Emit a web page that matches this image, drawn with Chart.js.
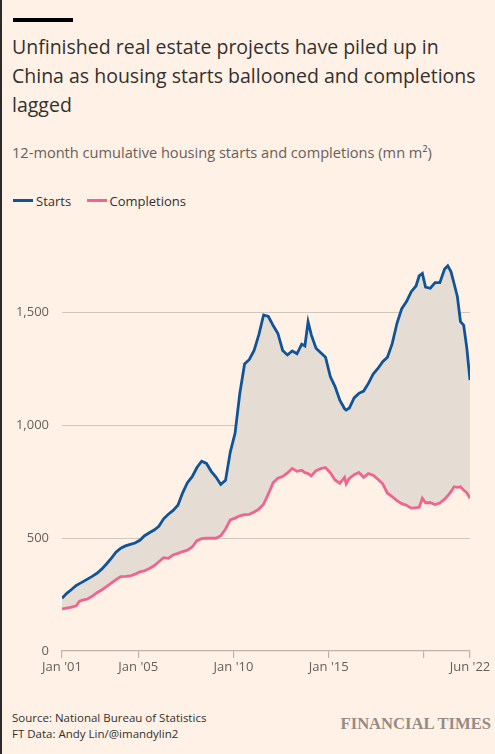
<!DOCTYPE html>
<html>
<head>
<meta charset="utf-8">
<script src="https://cdn.jsdelivr.net/npm/chart.js@4"></script>
<style>
  html, body { margin: 0; padding: 0; }
  body {
    width: 495px; height: 754px; background: #FFF1E5; position: relative; overflow: hidden;
    font-family: "Open Sans", "Noto Sans", sans-serif; color: #33302E;
    box-sizing: border-box; border-left: 2px solid #2a2a2a;
  }
  .bar { position: absolute; left: 11px; top: 18px; width: 60px; height: 4px; background: #000; }
  .title { position: absolute; left: 10px; top: 32px; width: 480px; font-size: 19.5px; line-height: 29px; color: #33302E; }
  .sub { position: absolute; left: 10px; top: 142px; font-size: 14.6px; color: #66605C; }
  .legend { position: absolute; left: 11px; top: 190px; font-size: 13px; color: #33302E; }
  .legend span { display: inline-block; vertical-align: middle; }
  .sw { width: 20px; height: 3px; margin-right: 3px; }
  .src { position: absolute; left: 10px; top: 710px; font-size: 11.5px; line-height: 16px; color: #33302E; }
  .ft { position: absolute; right: 4px; top: 714px; font-family: "Liberation Serif", "DejaVu Serif", serif; font-size: 16.6px; font-weight: bold; color: #958c85; }
  #wrap { position: absolute; left: 0; top: 240px; width: 495px; height: 450px; }
</style>
</head>
<body>
<div class="bar"></div>
<div class="title">Unfinished real estate projects have piled up in China as housing starts ballooned and completions lagged</div>
<div class="sub">12-month cumulative housing starts and completions (mn m²)</div>
<div class="legend">
  <span class="sw" style="background:#0F5499"></span><span>Starts</span>
  <span class="sw" style="background:#F0648E;margin-left:12px"></span><span>Completions</span>
</div>
<div id="wrap"><canvas id="chart"></canvas></div>
<div class="src">Source: National Bureau of Statistics<br>FT Data: Andy Lin/@imandylin2</div>
<div class="ft">FINANCIAL TIMES</div>
<script>
// months since Jan 2001
const months = [0,3,6,9,11,13,16,19,22,25,28,31,34,37,40,43,46,49,52,55,58,61,64,67,70,73,76,79,82,85,88,91,94,97,100,103,106,109,112,115,118,121,124,127,130,133,136,139,142,145,148,151,153,155,157,160,163,166,169,172,175,178,179,181,184,187,190,193,196,199,202,205,208,211,214,217,220,223,225,227,229,232,235,238,241,243,245,247,249,251,253,255,257];

const starts = [233,255,272,290,298,306,318,330,344,362,385,410,437,455,465,472,478,490,510,523,535,552,585,605,622,645,700,745,771,812,840,830,795,770,737,755,880,963,1140,1270,1290,1330,1400,1487,1480,1440,1405,1330,1310,1328,1315,1358,1350,1457,1400,1340,1320,1300,1214,1170,1110,1072,1066,1075,1120,1140,1150,1184,1225,1250,1280,1300,1360,1450,1515,1546,1590,1615,1660,1671,1610,1605,1630,1630,1690,1704,1679,1625,1570,1457,1442,1340,1199];

const completions = [186,190,194,200,220,225,230,242,258,270,285,300,316,329,330,332,340,350,355,365,377,395,413,410,425,432,440,446,460,488,497,499,499,499,510,540,580,588,598,603,605,615,628,650,695,745,765,772,788,808,795,800,789,785,775,798,807,812,789,757,742,768,740,764,780,790,768,785,778,760,740,698,683,665,652,645,632,634,636,676,656,656,648,655,672,687,705,727,724,727,712,700,676];

const xTicks = [0,48,108,168,228,257];
const xTickLabels = ["Jan '01","Jan '05","Jan '10","Jan '15","","Jun '22"];
const yTicks = [0,500,1000,1500];

const toPoints = vals => vals.map((v, i) => ({ x: months[i], y: v }));

new Chart(document.getElementById('chart'), {
  type: 'line',
  data: {
    datasets: [
      {
        label: 'Starts',
        data: toPoints(starts),
        borderColor: '#0F5499',
        borderWidth: 2.8,
        pointRadius: 0,
        tension: 0,
        fill: { target: 1, above: '#E5DCD4', below: '#E5DCD4' }
      },
      {
        label: 'Completions',
        data: toPoints(completions),
        borderColor: '#F0648E',
        borderWidth: 2.8,
        pointRadius: 0,
        tension: 0,
        fill: false
      }
    ]
  },
  options: {
    responsive: true,
    maintainAspectRatio: false,
    animation: false,
    layout: { padding: { top: 15.5, right: 27, bottom: 0, left: 0 } },
    plugins: {
      legend: { display: false },
      tooltip: { enabled: false },
      filler: { drawTime: 'beforeDatasetsDraw' }
    },
    scales: {
      x: {
        type: 'linear',
        min: 0,
        max: 257,
        afterBuildTicks: s => { s.ticks = xTicks.map(v => ({ value: v })); },
        afterFit: s => { s.height = 39; },
        grid: { drawOnChartArea: false, drawTicks: true, tickLength: 7, color: '#BDB3AA', lineWidth: 1.2 },
        border: { display: true, color: '#BDB3AA', width: 1.2 },
        ticks: {
          autoSkip: false,
          maxRotation: 0,
          padding: 1,
          color: '#66605C',
          font: { family: 'Open Sans', size: 13 },
          callback: (v, i) => xTickLabels[i]
        }
      },
      y: {
        min: 0,
        max: 1750,
        afterBuildTicks: s => { s.ticks = yTicks.map(v => ({ value: v })); },
        // the tick padding would otherwise also push the plot top down
        afterFit: s => { s.width = 60; s.paddingTop = 0; s.paddingBottom = 0; },
        grid: { color: ctx => ctx.tick && ctx.tick.value === 0 ? 'rgba(0,0,0,0)' : '#CFC6BD', drawTicks: false, lineWidth: 1 },
        border: { display: false },
        ticks: {
          padding: 13,
          color: '#66605C',
          font: { family: 'Open Sans', size: 13 },
          callback: v => v.toLocaleString('en-US')
        }
      }
    }
  }
});
</script>
</body>
</html>
